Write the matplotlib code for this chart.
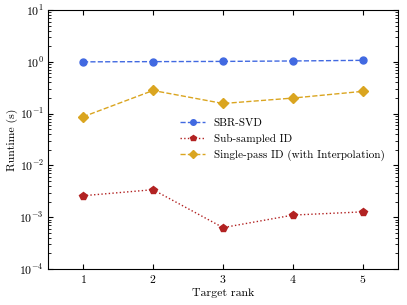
import matplotlib
matplotlib.use("Agg")
import matplotlib.pyplot as plt

plt.rcParams["font.family"] = "serif"
plt.rcParams["font.serif"] = ["cmr10"]
plt.rcParams["mathtext.fontset"] = "cm"
plt.rcParams["axes.formatter.use_mathtext"] = True

ranks = [1, 2, 3, 4, 5]
sbr_svd = [1.0, 1.01, 1.02, 1.04, 1.07]
subsampled_id = [0.0026, 0.0034, 0.00063, 0.0011, 0.00127]
single_pass_id = [0.087, 0.28, 0.157, 0.2, 0.27]

fig, ax = plt.subplots(figsize=(4.07, 3.05), dpi=100)
fig.subplots_adjust(left=0.118, right=0.978, top=0.967, bottom=0.118)

ax.plot(ranks, sbr_svd, "--o", color="royalblue", markersize=5, lw=1, label="SBR-SVD")
ax.plot(ranks, subsampled_id, ":p", color="firebrick", markersize=5.5, lw=1, label="Sub-sampled ID")
ax.plot(ranks, single_pass_id, "--D", color="goldenrod", markersize=5, lw=1,
        label="Single-pass ID (with Interpolation)")

ax.set_yscale("log")
ax.set_ylim(1e-4, 1e1)
ax.set_xlim(0.5, 5.5)
ax.set_xticks(ranks)
ax.set_xlabel("Target rank", fontsize=8.5, labelpad=2)
ax.set_ylabel("Runtime (s)", fontsize=8.5, labelpad=1)
ax.tick_params(which="both", direction="in", top=True, right=True, labelsize=8.5, pad=3)
ax.tick_params(axis="x", which="minor", top=False, bottom=False)

ax.legend(loc="center", bbox_to_anchor=(0.67, 0.5), frameon=False, fontsize=8,
          handlelength=2.2, markerscale=0.8)

fig.savefig("out.png", dpi=100)
